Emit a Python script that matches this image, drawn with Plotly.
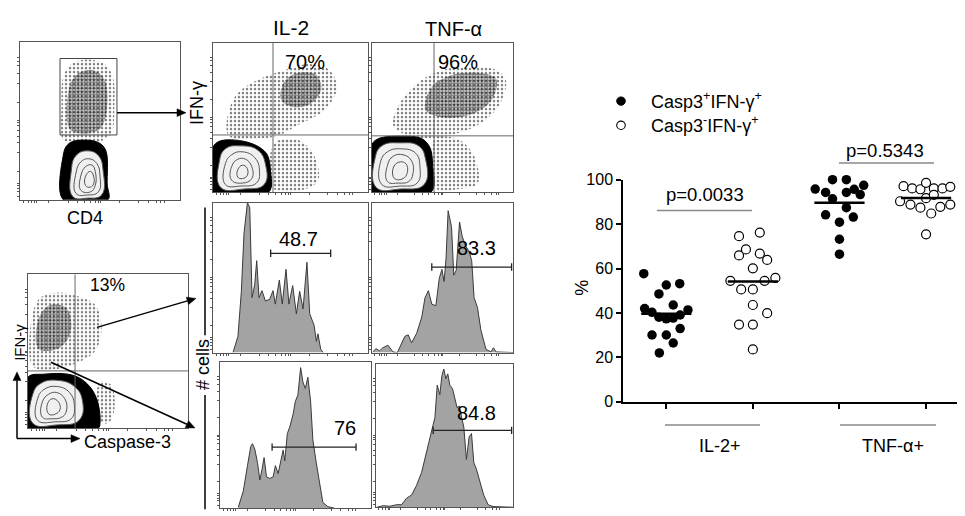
import math
import plotly.graph_objects as go

W, H = 965, 516
FONT = "Liberation Sans, Arial, sans-serif"

# ---------------- Panel B data ----------------
group_labels = ["IL-2+", "TNF-α+"]
series_names = ["Casp3<sup>+</sup>IFN-γ<sup>+</sup>", "Casp3<sup>-</sup>IFN-γ<sup>+</sup>"]
il2_casp_pos = [22, 26.5, 30.1, 30.1, 33, 37.4, 37.7, 38.1, 39.1, 40.3, 41.4, 42, 43.6, 48.6, 52.6, 53.2, 57.7]
il2_casp_neg = [23.6, 34.8, 34.8, 39.9, 43.6, 50.6, 50.6, 54.5, 54.5, 55.8, 60.1, 63.9, 65.9, 66.7, 68.6, 74.6, 76.2]
tnf_casp_pos = [66.5, 73.2, 80.9, 83.2, 84.2, 87.4, 91.4, 93.3, 94.3, 94.3, 95.7, 95.8, 97.5, 100, 100]
tnf_casp_neg = [97.1, 96.1, 95.7, 98.6, 96.1, 96.1, 96.8, 90.3, 88.8, 87.4, 91.7, 84.8, 87.8, 88.8, 93.2, 75.4]
group_means = [39.7, 54.2, 89.6, 91.8]
p_values = ["p=0.0033", "p=0.5343"]
y_ticks = [0, 20, 40, 60, 80, 100]

# horizontal scatter offsets (layout of dots within a column)
jit1 = [-0.08, 0.08, -0.165, 0, 0.16, 0, 0.08, -0.085, 0.16, -0.165, 0.25, -0.25, 0.08, -0.085, 0, 0.155, -0.26]
jit2 = [0, -0.16, 0, 0.165, 0, -0.135, 0, -0.26, 0.135, 0.26, 0, 0.165, -0.16, 0.08, -0.08, -0.16, 0.08]
jit3 = [0, 0, 0, 0.16, -0.16, 0.08, -0.08, 0.24, -0.16, 0.08, 0.17, -0.28, 0.28, -0.08, 0.08]
jit4 = [-0.26, -0.16, -0.065, 0, 0.09, 0.19, 0.28, -0.3, -0.18, -0.065, 0, 0.06, 0.165, 0.28, 0.09, 0]

# ---------------- Panel A histogram data (x: channel 0-100, y: % of max) ----------------
h_il2_pos_x = [12.9, 16.1, 18.3, 20, 22.2, 23.7, 25.2, 26.9, 28.2, 29.7, 31.6, 33.8, 36.6, 38.7, 40.2, 42.8, 44.7, 47.1, 49, 51.4, 53.8, 55.9, 58.1, 60.6, 62.4, 65.2, 66.7, 67.7, 69.5, 71]
h_il2_pos_y = [0, 10.8, 40.9, 79.6, 100, 96.8, 36.6, 45.2, 61.3, 36.6, 41.3, 34.4, 35.5, 41.3, 32.3, 48.4, 32.3, 55.5, 32.3, 44.7, 25.8, 40.9, 29, 60.2, 25.8, 18.3, 7.5, 12.5, 2.2, 0]
h_tnf_pos_x = [0.5, 2.9, 5.3, 7.7, 11.3, 14.9, 18, 20.9, 23.3, 25.7, 28.1, 31.7, 35.3, 37.6, 40, 42.4, 45.3, 47.7, 49.6, 51.1, 52.5, 54, 56.4, 58, 59.7, 62.1, 64, 66.4, 68.8, 70.7, 72.4, 74.8, 77.2, 80.8, 84.4, 86.1, 88, 100]
h_tnf_pos_y = [0.4, 2.6, 1.1, 3.2, 4.9, 0.4, 0, 6.5, 10.8, 11.8, 6.5, 12.9, 23.7, 36.6, 41.3, 32.3, 31.2, 49.5, 55.5, 47.3, 62.4, 94.6, 83.9, 51.6, 54.8, 87.1, 77.4, 71, 67.7, 61.3, 36.6, 30.1, 15.1, 2.2, 0.4, 3.2, 0.4, 0]
h_il2_neg_x = [12.1, 15.4, 18.2, 20.4, 21.5, 23.1, 24.8, 26.4, 27.9, 29.2, 30.8, 33, 35.2, 36.7, 38.5, 40.7, 41.8, 42.9, 44.6, 46.2, 48.4, 49.9, 51.6, 53.4, 54.9, 56.5, 58.2, 60, 61.5, 63.7, 65.9, 68.1, 71.4, 75.8]
h_il2_neg_y = [0.7, 11.6, 29.2, 42.4, 44.2, 40.2, 31.4, 19.3, 27, 34.7, 21.5, 20.4, 21.5, 29.2, 23.7, 35.8, 39.8, 32.5, 51.2, 55.6, 64.4, 73.2, 77.6, 96.3, 86.4, 82, 89.7, 73.2, 46.8, 31.4, 16, 4, 1.1, 0]
h_tnf_neg_x = [0.5, 5.3, 10.2, 15, 18.7, 22.3, 26, 29.6, 33.3, 36.9, 40.5, 43, 44.7, 46.6, 48.1, 49.5, 51, 52.4, 53.9, 55.8, 57.5, 59.2, 60.7, 62.4, 64.1, 66, 68, 69.7, 71.4, 73.3, 75.7, 78.6, 81.8, 85.4, 100]
h_tnf_neg_y = [0, 1.1, 0.7, 1.8, 1.8, 6.3, 8.6, 15.3, 24.4, 37.9, 51.5, 62.8, 85.3, 78.6, 92.1, 96.6, 89.8, 93.2, 85.3, 83, 76.3, 69.5, 70.7, 62.8, 56, 33.4, 49.2, 51.5, 31.2, 26.6, 17.6, 8.6, 1.8, 0.5, 0]
hist_gate_values = ["48.7", "83.3", "76", "84.8"]
hist_gates = [(37.2, 75.9, 66.2), (42.4, 99, 57), (34.5, 90.1, 41.8), (41.7, 99, 53.7)]
hist_label_pos = [(55, 76), (74, 69.5), (82.5, 55), (73, 66)]

# ---------------- Panel A dot-plot regions (x,y in 0-100 channel units) ----------------
dot_labels = ["0.76", "70%", "96%", "13%"]
# plot 1: IFN-γ vs CD4
p1_blob = [(27, 0), (27, 28), (29, 34), (33, 37), (45, 37.5), (51, 35), (54, 30), (54.5, 10), (55, 0)]
p1_rings = [[(33, 2), (32, 18), (35, 28), (42, 31), (49, 28), (52, 18), (51, 3), (42, 1)],
            [(35, 4), (35, 17), (38, 24), (43, 26), (48, 23), (50, 15), (49, 5), (42, 3)],
            [(38, 6), (38, 15), (41, 21), (45, 22), (47, 18), (47, 9), (44, 5)],
            [(41, 9), (41, 15), (44, 18), (46, 15), (46, 10), (44, 8)]]
p1_sparse = [[(27, 38), (26, 60), (27, 78), (32, 86), (42, 89), (53, 86), (58, 78), (59, 60), (57, 42), (50, 37), (33, 37)]]
p1_dense = [[(31, 45), (31, 72), (36, 80), (46, 82), (53, 76), (54, 55), (50, 45), (40, 42)]]
# plot 2: IFN-γ vs IL-2
p2_blob = [(0, 0), (0, 30), (4, 34), (12, 35), (22, 33.5), (30, 30), (35, 25), (37, 15), (36, 0)]
p2_rings = [[(5, 3), (4, 20), (8, 29), (18, 31), (29, 28), (34, 18), (33, 5), (20, 2)],
            [(8, 5), (8, 19), (12, 25), (19, 27), (27, 23), (30, 14), (28, 6), (18, 4)],
            [(12, 8), (12, 17), (16, 22), (21, 22), (25, 17), (25, 9), (19, 6)],
            [(16, 10), (16, 15), (19, 18), (22, 16), (22, 11), (19, 9)]]
p2_sparse = [[(10, 38), (12, 60), (20, 70), (35, 78), (50, 83), (62, 86), (75, 82), (80, 70), (72, 55), (55, 45), (42, 38), (30, 36)],
             [(38, 3), (40, 33), (55, 35), (65, 25), (68, 8), (60, 2)]]
p2_dense = [[(44, 62), (46, 74), (55, 80), (66, 79), (70, 70), (64, 60), (52, 57)]]
# plot 3: IFN-γ vs TNF-α
p3_blob = [(0, 0), (0, 32), (5, 36), (20, 37.5), (35, 36), (41, 30), (43, 18), (42, 0)]
p3_rings = [[(3, 3), (2, 22), (7, 31), (20, 33), (33, 31), (38, 22), (37, 5), (20, 2)],
            [(7, 5), (6, 20), (11, 27), (21, 29), (31, 26), (34, 17), (32, 6), (20, 4)],
            [(11, 7), (11, 18), (15, 24), (22, 25), (28, 21), (29, 12), (26, 7), (19, 6)],
            [(16, 9), (15, 16), (19, 20), (24, 19), (25, 13), (22, 9)]]
p3_sparse = [[(15, 45), (20, 60), (35, 75), (50, 82), (70, 84), (88, 82), (95, 75), (90, 58), (75, 45), (55, 38), (40, 36), (25, 38)],
             [(44, 3), (44, 35), (60, 36), (72, 25), (75, 6), (62, 2)]]
p3_dense = [[(38, 55), (42, 70), (55, 78), (75, 80), (88, 76), (85, 62), (70, 52), (50, 50)]]
# plot 4: IFN-γ vs Caspase-3
p4_blob = [(0, 0), (0, 33), (10, 35), (25, 35), (33, 32), (40, 25), (44, 15), (45, 3), (44, 0)]
p4_rings = [[(3, 3), (3, 22), (8, 29), (18, 31), (29, 27), (34, 18), (32, 5), (18, 2)],
            [(6, 5), (6, 19), (10, 25), (18, 27), (26, 23), (29, 14), (27, 6), (17, 4)],
            [(9, 7), (9, 17), (13, 22), (18, 23), (23, 19), (24, 11), (21, 7), (15, 6)],
            [(13, 9), (12, 15), (15, 19), (19, 17), (20, 12), (17, 9)]]
p4_sparse = [[(3, 40), (3, 75), (8, 85), (18, 88), (30, 86), (42, 80), (46, 65), (42, 50), (30, 42), (15, 38)],
             [(44, 5), (45, 30), (52, 28), (54, 12), (50, 3)]]
p4_dense = [[(6, 52), (7, 72), (14, 80), (24, 78), (27, 65), (22, 54), (12, 50)]]

# ---------------- helpers ----------------
def px_x(x):
    return x / W

def px_y(y):
    return 1 - y / H

layout_axes = {}

def add_axes(n, x0, x1, y0, y1, xr, yr, kind):
    xa = dict(domain=[px_x(x0), px_x(x1)], range=xr, anchor=f"y{n}" if n > 1 else "y",
              showgrid=False, zeroline=False, fixedrange=True)
    ya = dict(domain=[px_y(y1), px_y(y0)], range=yr, anchor=f"x{n}" if n > 1 else "x",
              showgrid=False, zeroline=False, fixedrange=True)
    if kind == "flow":
        tv = [2, 5, 7, 9, 10, 18, 30, 36, 40, 44, 47, 49, 50, 62, 74, 80, 85, 88, 90]
        for a in (xa, ya):
            a.update(showline=True, linecolor="#555", linewidth=1, mirror=True,
                     ticks="outside", ticklen=2, tickwidth=1, tickcolor="#555",
                     tickvals=tv, showticklabels=False)
    layout_axes["xaxis" + (str(n) if n > 1 else "")] = xa
    layout_axes["yaxis" + (str(n) if n > 1 else "")] = ya

def ref(n):
    return ("x" + (str(n) if n > 1 else ""), "y" + (str(n) if n > 1 else ""))

fig = go.Figure()

def poly(pts, close=True):
    xs = [p[0] for p in pts]
    ys = [p[1] for p in pts]
    if close:
        xs.append(pts[0][0]); ys.append(pts[0][1])
    return xs, ys

def flow_plot(n, blob, rings, sparse, dense):
    xr, yr = ref(n)
    for reg in sparse:
        xs, ys = poly(reg)
        fig.add_trace(go.Scatter(x=xs, y=ys, xaxis=xr, yaxis=yr, mode="lines", line=dict(width=0, shape="spline"),
                                 fill="toself", fillcolor="rgba(0,0,0,0)",
                                 fillpattern=dict(shape=".", fgcolor="black", bgcolor="rgba(0,0,0,0)", size=4, solidity=0.3),
                                 hoverinfo="skip", showlegend=False))
    for reg in dense:
        xs, ys = poly(reg)
        fig.add_trace(go.Scatter(x=xs, y=ys, xaxis=xr, yaxis=yr, mode="lines", line=dict(width=0, shape="spline"),
                                 fill="toself", fillcolor="rgba(0,0,0,0)",
                                 fillpattern=dict(shape=".", fgcolor="black", bgcolor="rgba(0,0,0,0)", size=3, solidity=0.75),
                                 hoverinfo="skip", showlegend=False))
    xs, ys = poly(blob)
    fig.add_trace(go.Scatter(x=xs, y=ys, xaxis=xr, yaxis=yr, mode="lines", line=dict(width=1, color="black", shape="spline"),
                             fill="toself", fillcolor="black", hoverinfo="skip", showlegend=False))
    for i, r in enumerate(rings):
        xs, ys = poly(r)
        fig.add_trace(go.Scatter(x=xs, y=ys, xaxis=xr, yaxis=yr, mode="lines",
                                 line=dict(width=1, color="#555", shape="spline", smoothing=1.3),
                                 fill="toself" if i == 0 else None,
                                 fillcolor="#f0f0f0" if i == 0 else None,
                                 hoverinfo="skip", showlegend=False))

def hist_plot(n, xs, ys, gate, label, lpos):
    xr, yr = ref(n)
    fig.add_trace(go.Scatter(x=xs, y=ys, xaxis=xr, yaxis=yr, mode="lines",
                             line=dict(width=1, color="#3a3a3a"), fill="tozeroy", fillcolor="#a3a3a3",
                             hoverinfo="skip", showlegend=False, cliponaxis=False))
    g0, g1, gy = gate
    fig.add_trace(go.Scatter(x=[g0, g0, None, g0, g1, None, g1, g1], y=[gy - 2.5, gy + 2.5, None, gy, gy, None, gy - 2.5, gy + 2.5],
                             xaxis=xr, yaxis=yr, mode="lines", line=dict(width=1.3, color="#222"),
                             hoverinfo="skip", showlegend=False))
    fig.add_annotation(x=lpos[0], y=lpos[1], xref=xr, yref=yr, text=label, showarrow=False,
                       font=dict(size=20, color="black", family=FONT))

# ---------------- Panel A axes ----------------
add_axes(1, 12, 172, 27, 190, [0, 100], [0, 100], "flow")
add_axes(2, 205, 360, 28, 182, [0, 100], [0, 100], "flow")
add_axes(3, 364, 505, 28, 182, [0, 100], [0, 100], "flow")
add_axes(4, 205, 360, 193, 348, [0, 100], [0, 100], "flow")
add_axes(5, 364, 505, 193, 348, [0, 100], [0, 100], "flow")
add_axes(6, 20, 180, 267, 426, [0, 100], [0, 100], "flow")
add_axes(7, 212, 363, 358, 509, [0, 100], [0, 100], "flow")
add_axes(8, 368, 505, 360, 508, [0, 100], [0, 100], "flow")
add_axes(9, 615, 957, 169.3, 399, [0.5, 4.45], [0, 100], "B")

flow_plot(1, p1_blob, p1_rings, p1_sparse, p1_dense)
flow_plot(2, p2_blob, p2_rings, p2_sparse, p2_dense)
flow_plot(3, p3_blob, p3_rings, p3_sparse, p3_dense)
flow_plot(6, p4_blob, p4_rings, p4_sparse, p4_dense)

hist_plot(4, h_il2_pos_x, h_il2_pos_y, hist_gates[0], hist_gate_values[0], hist_label_pos[0])
hist_plot(5, h_tnf_pos_x, h_tnf_pos_y, hist_gates[1], hist_gate_values[1], hist_label_pos[1])
hist_plot(7, h_il2_neg_x, h_il2_neg_y, hist_gates[2], hist_gate_values[2], hist_label_pos[2])
hist_plot(8, h_tnf_neg_x, h_tnf_neg_y, hist_gates[3], hist_gate_values[3], hist_label_pos[3])

shapes = []
# gate on plot 1
shapes.append(dict(type="rect", xref="x", yref="y", x0=25, x1=60.6, y0=41.1, y1=89.6, line=dict(color="#444", width=1)))
# quadrant lines
for n, qx, qy in [(2, 38.7, 38.3), (3, 44, 37.7), (6, 29.4, 37.1)]:
    xr, yr = ref(n)
    shapes.append(dict(type="line", xref=xr, yref=yr, x0=qx, x1=qx, y0=0, y1=100, line=dict(color="#666", width=1)))
    shapes.append(dict(type="line", xref=xr, yref=yr, x0=0, x1=100, y0=qy, y1=qy, line=dict(color="#666", width=1)))

def pline(x0, y0, x1, y1, color="black", width=1.5):
    shapes.append(dict(type="line", xref="paper", yref="paper", x0=px_x(x0), x1=px_x(x1), y0=px_y(y0), y1=px_y(y1),
                       line=dict(color=color, width=width)))

def arrow(x0, y0, x1, y1, width=1.5, head=9, half=4):
    d = math.hypot(x1 - x0, y1 - y0)
    ux, uy = (x1 - x0) / d, (y1 - y0) / d
    bx, by = x1 - ux * head, y1 - uy * head
    pline(x0, y0, bx, by, width=width)
    pts = [(x1, y1), (bx - uy * half, by + ux * half), (bx + uy * half, by - ux * half)]
    path = "M " + " L ".join("%.5f,%.5f" % (px_x(a), px_y(b)) for a, b in pts) + " Z"
    shapes.append(dict(type="path", xref="paper", yref="paper", path=path, fillcolor="black", line=dict(color="black", width=0.5)))

# "# cells" bracket line
pline(197, 198, 197, 330)
pline(197, 392, 197, 510)

annotations = []

def txt(x, y, s, size, angle=0, bold=False, xanchor="center", color="black"):
    annotations.append(dict(x=px_x(x), y=px_y(y), xref="paper", yref="paper", text=("<b>%s</b>" % s) if bold else s,
                            showarrow=False, textangle=angle, xanchor=xanchor, yanchor="middle",
                            font=dict(size=size, color=color, family=FONT)))

txt(9, 9, "A", 14, bold=True)
txt(578, 10, "B", 15, bold=True)
txt(73, 37, dot_labels[0], 12)
txt(24, 103, "IFN-γγ", 13.5, angle=-90)
txt(77, 209, "CD4", 18)
txt(283, 12, "IL-2", 21)
txt(445, 13, "TNF-α", 20)
txt(189, 90, "IFN-γ", 18, angle=-90)
txt(297, 48, dot_labels[1], 20)
txt(450, 48, dot_labels[2], 20)
txt(99, 278, dot_labels[3], 17.5)
txt(12, 338, "IFN-γ", 15, angle=-90)
txt(119, 440, "Caspase-3", 18)
txt(195, 361, "# cells", 18, angle=-90)

arrow(109, 100, 178, 100)
arrow(89, 322, 188, 292)
arrow(43, 358, 187, 426)
arrow(9, 437, 9, 368, width=1.5)
arrow(9, 437, 72, 437, width=1.5)

# ---------------- Panel B ----------------
xa9, ya9 = ref(9)
layout_axes["xaxis9"].update(showline=True, linecolor="black", linewidth=1.5, ticks="outside", ticklen=5, tickwidth=1.5,
                              tickcolor="black", tickvals=[1, 2, 3, 4], showticklabels=False)
layout_axes["yaxis9"].update(showline=True, linecolor="black", linewidth=1.5, ticks="outside", ticklen=5, tickwidth=1.5,
                              tickcolor="black", tickvals=y_ticks, ticktext=[str(v) for v in y_ticks],
                              tickfont=dict(size=16, color="black", family=FONT))

series = [(1, il2_casp_pos, jit1, True), (2, il2_casp_neg, jit2, False),
          (3, tnf_casp_pos, jit3, True), (4, tnf_casp_neg, jit4, False)]
for idx, vals, jit, filled in series:
    fig.add_trace(go.Scatter(x=[idx + j for j in jit], y=vals, xaxis=xa9, yaxis=ya9, mode="markers",
                             marker=dict(size=9.5 if filled else 9, color="black" if filled else "white",
                                         line=dict(color="black", width=0 if filled else 1.2)),
                             cliponaxis=False, showlegend=False, hoverinfo="y"))
for k, m in enumerate(group_means):
    fig.add_trace(go.Scatter(x=[k + 1 - 0.29, k + 1 + 0.29], y=[m, m], xaxis=xa9, yaxis=ya9, mode="lines",
                             line=dict(color="black", width=2.5), showlegend=False, hoverinfo="skip"))

txt(574, 281, "%", 18, angle=-90)
txt(697, 185, p_values[0], 18.5)
txt(877, 139, p_values[1], 18.5)
pline(649, 201, 744, 201, color="#8a8a8a", width=1.5)
pline(831, 152, 926, 152, color="#8a8a8a", width=1.5)
pline(657, 423, 752, 423, color="#8a8a8a", width=1.5)
pline(832, 423, 928, 423, color="#8a8a8a", width=1.5)
txt(712, 445, group_labels[0], 18)
txt(885, 445, group_labels[1], 18)

# legend
r = 4.3
shapes.append(dict(type="circle", xref="paper", yref="paper", x0=px_x(613 - r), x1=px_x(613 + r), y0=px_y(88 + r), y1=px_y(88 - r),
                   fillcolor="black", line=dict(color="black", width=1)))
shapes.append(dict(type="circle", xref="paper", yref="paper", x0=px_x(613 - r), x1=px_x(613 + r), y0=px_y(113 + r), y1=px_y(113 - r),
                   fillcolor="white", line=dict(color="black", width=1.1)))
txt(641, 87, series_names[0], 18, xanchor="left")
txt(641, 112, series_names[1], 18, xanchor="left")

fig.update_layout(width=W, height=H, margin=dict(l=0, r=0, t=0, b=0), paper_bgcolor="white", plot_bgcolor="white",
                  showlegend=False, shapes=shapes, annotations=annotations, font=dict(family=FONT, color="black"),
                  **layout_axes)
fig.write_html("out.html")
